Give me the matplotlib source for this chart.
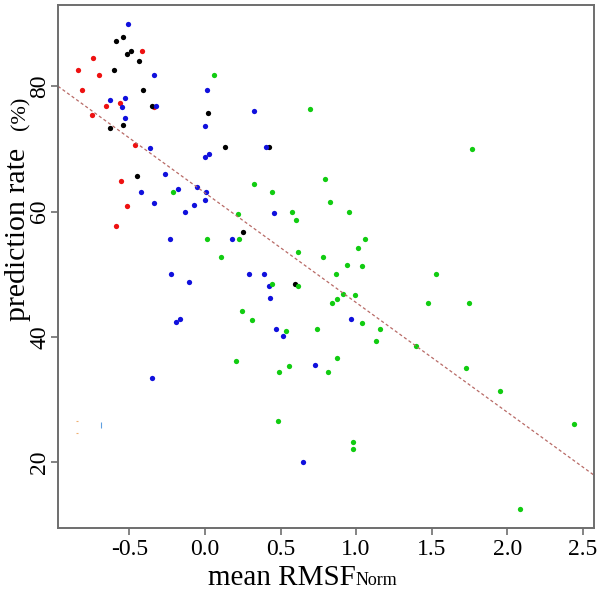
import matplotlib

matplotlib.use("Agg")
import matplotlib.pyplot as plt

plt.rcParams["font.family"] = ["Liberation Serif", "DejaVu Serif"]

# scatter groups (mean RMSF_norm, prediction rate %)
red_x = [-0.42, -0.74, -0.843, -0.702, -0.815, -0.654, -0.561, -0.338, -0.748, -0.461, -0.558, -0.519, -0.589]
red_y = [85.7, 84.5, 82.7, 81.8, 79.5, 76.9, 77.3, 76.7, 75.5, 70.6, 64.9, 60.9, 57.7]

black_x = [-0.587, -0.543, -0.519, -0.492, -0.435, -0.60, -0.413, -0.353, 0.02, -0.63, -0.545,
           0.132, -0.448, 0.254, 0.424, 0.598]
black_y = [87.2, 87.9, 85.2, 85.6, 84.0, 82.7, 79.5, 76.9, 75.7, 73.3, 73.9,
           70.3, 65.7, 56.8, 70.4, 48.4]

blue_x = [-0.512, -0.336, 0.015, -0.627, -0.528, -0.548, -0.325, 0.325, -0.528, -0.002,
          -0.362, -0.002, 0.026, -0.265, -0.426, -0.181, -0.051, 0.007, -0.338, -0.075,
          0.0, -0.132, -0.234, 0.179, -0.223, 0.289, -0.108, -0.194, -0.164, -0.349,
          0.402, 0.457, 0.389, 0.422, 0.433, 0.967, 0.468, 0.514, 0.726, 0.649]
blue_y = [89.95, 81.8, 79.5, 77.8, 78.2, 76.7, 76.9, 76.0, 75.0, 73.7,
          70.2, 68.8, 69.2, 66.0, 63.2, 63.6, 64.0, 63.2, 61.4, 61.1,
          61.8, 60.0, 55.6, 55.6, 50.1, 50.1, 48.8, 42.4, 42.9, 33.5,
          70.4, 59.8, 50.1, 48.2, 46.2, 42.9, 41.3, 40.1, 35.6, 20.1]

green_x = [0.06, -0.21, 0.325, 0.216, 0.015, 0.223, 0.106, 0.245, 0.311, 0.203,
           0.695, 0.795, 0.446, 0.826, 0.578, 0.60, 0.956, 1.06, 1.011, 0.614,
           0.784, 0.943, 1.04, 0.87, 0.444, 0.614, 0.912, 0.995, 0.874, 0.843,
           1.042, 1.159, 1.132, 0.534, 0.74, 0.874, 0.556, 0.488, 0.817, 0.481,
           0.978, 0.978, 1.768, 1.528, 1.479, 1.748, 1.395, 1.726, 1.956, 2.444, 2.088]
green_y = [81.8, 63.2, 64.5, 59.6, 55.6, 55.6, 52.8, 44.1, 42.7, 36.1,
           76.4, 65.2, 63.1, 61.6, 60.0, 58.7, 60.0, 55.6, 54.2, 53.6,
           52.7, 51.5, 51.3, 50.1, 48.5, 48.1, 46.9, 46.7, 46.1, 45.5,
           42.2, 41.2, 39.4, 41.0, 41.3, 36.7, 35.3, 34.4, 34.4, 26.6,
           23.2, 22.1, 70.0, 50.1, 45.5, 45.5, 38.6, 35.1, 31.3, 26.1, 12.6]

# regression line (intercept, slope)
fit_b, fit_m = 63.0, -17.5

# faint leftover marks near the lower left
stray_orange_x = [-0.85, -0.85]
stray_orange_y = [26.6, 24.6]
stray_blue_x = [-0.689]
stray_blue_y = [25.9]

xticks = [-0.5, 0.0, 0.5, 1.0, 1.5, 2.0, 2.5]
yticks = [20, 40, 60, 80]

fig = plt.figure(figsize=(6.02, 5.91), dpi=100)
ax = fig.add_axes([58 / 602, 1 - 528 / 591, 536 / 602, 523 / 591])

ms = 3.8
ax.plot(red_x, red_y, "o", color="#ee1111", ms=ms, mec="none")
ax.plot(black_x, black_y, "o", color="black", ms=ms, mec="none")
ax.plot(blue_x, blue_y, "o", color="#1010dd", ms=ms, mec="none")
ax.plot(green_x, green_y, "o", color="#11cc11", ms=ms, mec="none")
ax.plot(stray_orange_x, stray_orange_y, "_", color="#f0b070", ms=2, mew=0.8)
ax.plot(stray_blue_x, stray_blue_y, "|", color="#60a0e0", ms=4, mew=0.8)

ax.axline((0, fit_b), slope=fit_m, color="#b86a66", lw=0.9, ls=(0, (2.5, 2)))

ax.set_xlim(-0.973, 2.575)
ax.set_ylim(9.5, 93.0)
ax.set_xticks(xticks)
ax.set_xticklabels([f"{t:.1f}" for t in xticks])
ax.set_yticks(yticks)
ax.set_yticklabels([str(t) for t in yticks], rotation=90, va="center")

for s in ax.spines.values():
    s.set_color("#6e6e6e")
    s.set_linewidth(1.4)
ax.tick_params(length=5, width=1.2, color="#6e6e6e", labelsize=17)
ax.tick_params(axis="y", pad=0.5)
ax.tick_params(axis="x", pad=3)

fig.text(208 / 602, 1 - 585 / 591, "mean RMSF", ha="left", va="baseline", fontsize=21)
fig.text(356 / 602, 1 - 585 / 591, "Norm", ha="left", va="baseline", fontsize=13)

fig.text(25 / 602, 1 - 234 / 591, "prediction rate", rotation=90, rotation_mode="anchor",
         ha="center", va="baseline", fontsize=21.5)
fig.text(25 / 602, 1 - 113 / 591, "(%)", rotation=90, rotation_mode="anchor",
         ha="center", va="baseline", fontsize=16)

fig.savefig("out.png", dpi=100)
